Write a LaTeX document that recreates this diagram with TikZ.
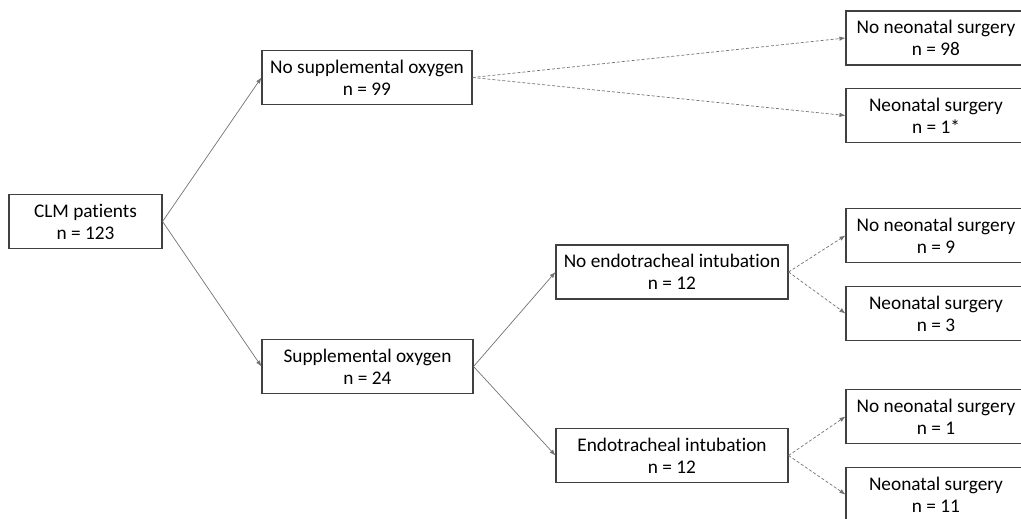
\documentclass[tikz,border=0pt]{standalone}
\usepackage{fontspec}
\setmainfont{Carlito}[Ligatures={NoCommon}]
\usetikzlibrary{arrows.meta}
\begin{document}
\begin{tikzpicture}[x=1pt,y=-1pt, every node/.style={font=\fontsize{19.3}{22}\selectfont},
  box/.style={draw=black!75,line width=1.1pt,minimum height=54pt,align=center,inner sep=0pt},
  solid link/.style={-{Latex[length=6pt,width=4.5pt]},line width=0.7pt,black!55},
  dash link/.style={-{Latex[length=6pt,width=4.5pt]},line width=0.7pt,black!55,dash pattern=on 3pt off 2pt}]
\useasboundingbox (0,0) rectangle (1021,519);
% left side
\node[box,minimum width=153pt] (clm) at (85.5,221.5) {CLM patients\\ n = 123};
\node[box,minimum width=210pt] (nosup) at (367,77.5) {No supplemental oxygen\\ n = 99};
\node[box,minimum width=211pt] (sup) at (367.5,366.5) {Supplemental oxygen\\ n = 24};
\node[box,minimum width=232pt] (noint) at (672,272) {No endotracheal intubation\\ n = 12};
\node[box,minimum width=232pt] (int) at (672,455.5) {Endotracheal intubation\\ n = 12};
% outcomes
\node[box,minimum width=180pt] (r1) at (936,38) {No neonatal surgery\\ n = 98};
\node[box,minimum width=180pt] (r2) at (936,115.5) {Neonatal surgery\\ n = 1*};
\node[box,minimum width=180pt] (r3) at (936,235.5) {No neonatal surgery\\ n = 9};
\node[box,minimum width=180pt] (r4) at (936,313.5) {Neonatal surgery\\ n = 3};
\node[box,minimum width=180pt] (r5) at (936,416.5) {No neonatal surgery\\ n = 1};
\node[box,minimum width=180pt] (r6) at (936,494.5) {Neonatal surgery\\ n = 11};
% links
\draw[solid link] (clm.east) -- (nosup.west);
\draw[solid link] (clm.east) -- (sup.west);
\draw[solid link] (sup.east) -- (noint.west);
\draw[solid link] (sup.east) -- (int.west);
\draw[dash link] (nosup.east) -- (r1.west);
\draw[dash link] (nosup.east) -- (r2.west);
\draw[dash link] (noint.east) -- (r3.west);
\draw[dash link] (noint.east) -- (r4.west);
\draw[dash link] (int.east) -- (r5.west);
\draw[dash link] (int.east) -- (r6.west);
\end{tikzpicture}
\end{document}
